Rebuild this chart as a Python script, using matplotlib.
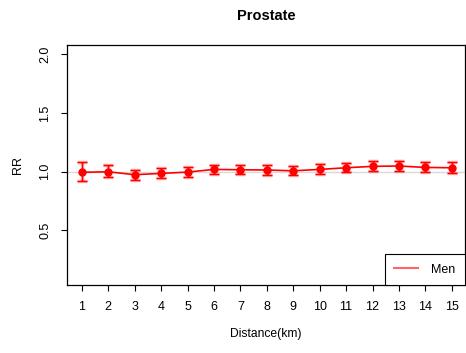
import numpy as np
import matplotlib.pyplot as plt
from matplotlib.lines import Line2D

plt.rcParams['font.family'] = ['Liberation Sans', 'DejaVu Sans']

## relative risk by distance band
distance = np.arange(1, 16)
rr = [0.995, 1.000, 0.975, 0.986, 0.997, 1.020, 1.017, 1.015,
      1.008, 1.020, 1.034, 1.046, 1.049, 1.037, 1.034]
rr_lo = [0.923, 0.952, 0.932, 0.946, 0.957, 0.980, 0.978, 0.972,
         0.969, 0.978, 0.995, 1.003, 1.009, 0.995, 0.992]
rr_hi = [1.080, 1.055, 1.017, 1.029, 1.043, 1.060, 1.060, 1.057,
         1.051, 1.063, 1.077, 1.089, 1.094, 1.080, 1.080]

rr = np.array(rr)
err = [rr - np.array(rr_lo), np.array(rr_hi) - rr]

fig = plt.figure(figsize=(4.66, 3.53), dpi=100)
ax = fig.add_axes([0.1438, 0.1926, 0.8541, 0.6799])

ax.axhline(1.0, color='#d9d9d9', lw=1.0, zorder=1)

# pale wide bars underneath, thin red bars on top
ax.errorbar(distance, rr, yerr=err, fmt='none', ecolor='#ff0000', alpha=0.3,
            elinewidth=2.5, capsize=3.5, capthick=2.5, zorder=2)
ax.errorbar(distance, rr, yerr=err, fmt='none', ecolor='#ff0000',
            elinewidth=1, capsize=3.5, capthick=1, zorder=3)
ax.plot(distance, rr, color='#ff0000', lw=1.2, marker='o', ms=5,
        mec='#ff0000', mfc='#ff0000', zorder=4)

ax.set_xlim(0.44, 15.5)
ax.set_ylim(0.035, 2.08)
ax.set_xticks(distance)
ax.set_yticks([0.5, 1.0, 1.5, 2.0])
ax.set_yticklabels(['0.5', '1.0', '1.5', '2.0'], rotation=90, va='center')
ax.tick_params(direction='out', length=4.5, width=0.8, labelsize=9, pad=7)
for s in ax.spines.values():
    s.set_linewidth(0.9)

ax.set_title('Prostate', fontsize=10.5, fontweight='bold', pad=18)
ax.set_xlabel('Distance(km)', fontsize=8.7, labelpad=11)
ax.set_ylabel('RR', fontsize=9, labelpad=11)

handle = Line2D([], [], color='#ff6666', lw=1.5)
leg = ax.legend([handle], ['Men'], loc='lower right', fontsize=9,
                fancybox=False, framealpha=1, edgecolor='black',
                borderaxespad=0, handlelength=1.9, borderpad=0.75,
                handletextpad=1.1)
leg.get_frame().set_linewidth(0.8)

fig.savefig('out.png', dpi=100)
